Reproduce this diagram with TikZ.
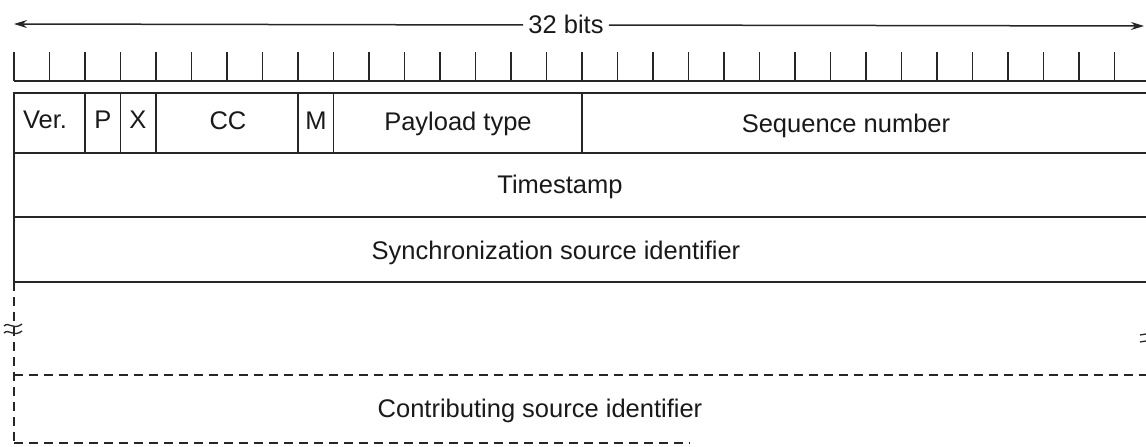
\documentclass[tikz,border=0pt]{standalone}
\usepackage{fontspec}
\setmainfont{Liberation Sans}
\usetikzlibrary{arrows.meta}
\begin{document}
\begin{tikzpicture}[x=1pt,y=-1pt,
  lbl/.style={font=\fontsize{25.5}{30}\selectfont, inner sep=0pt, anchor=base, text=black!90},
  box/.style={line width=1.9pt, draw=black!85},
  ruler/.style={line width=1.5pt, draw=black!85},
  dashln/.style={line width=1.9pt, dash pattern=on 9pt off 6pt, draw=black!85},
  brk/.style={line width=1.3pt, draw=black!85}]
\useasboundingbox (0,0) rectangle (1146,447);
\clip (0,0) rectangle (1146,447);
% width arrow
\node[lbl, inner sep=5pt] (bits) at (566,33) {32 bits};
\coordinate (al) at (14,24);
\coordinate (ar) at (1144,26);
\draw[ruler,-{Stealth[length=13pt,width=8pt]}] (bits.west|-0,25) -- (al);
\draw[ruler,-{Stealth[length=13pt,width=8pt]}] (bits.east|-0,25) -- (ar);
% ruler
\draw[ruler] (14,81) -- (1150,81);
\foreach \k in {0,...,32} \draw[ruler] ({14+35.5*\k},52) -- ({14+35.5*\k},81);
% header rows
\draw[box] (1150,93) -- (14,93) -- (14,282) -- (1150,282);
\draw[box] (14,153) -- (1150,153);
\draw[box] (14,217) -- (1150,217);
\foreach \k in {2,3,4,8,9,16} \draw[box] ({14+35.5*\k},93) -- ({14+35.5*\k},153);
% CSRC part
\draw[dashln] (14,282) -- (14,447);
\draw[dashln] (14,375) -- (1150,375);
\draw[dashln] (14,443) -- (690,443);
% break marks
\draw[brk] (4,326) .. controls (9,321) and (13,331) .. (22,324);
\draw[brk] (4,333) .. controls (9,328) and (13,338) .. (22,331);
\draw[brk] (1140,335) -- (1146,334);
\draw[brk] (1140,342) -- (1146,341);
% labels
\node[lbl] (ver) at (45,128) {Ver.};
\node[lbl] (p) at (103,128) {P};
\node[lbl] (x) at (138,128) {X};
\node[lbl] (cc) at (228,129) {CC};
\node[lbl] (m) at (316,129) {M};
\node[lbl] (pt) at (458,130) {Payload type};
\node[lbl] (seq) at (846,132) {Sequence number};
\node[lbl] (ts) at (560,193) {Timestamp};
\node[lbl] (ssrc) at (556,259) {Synchronization source identifier};
\node[lbl] (csrc) at (540,417) {Contributing source identifier};
\end{tikzpicture}
\end{document}
